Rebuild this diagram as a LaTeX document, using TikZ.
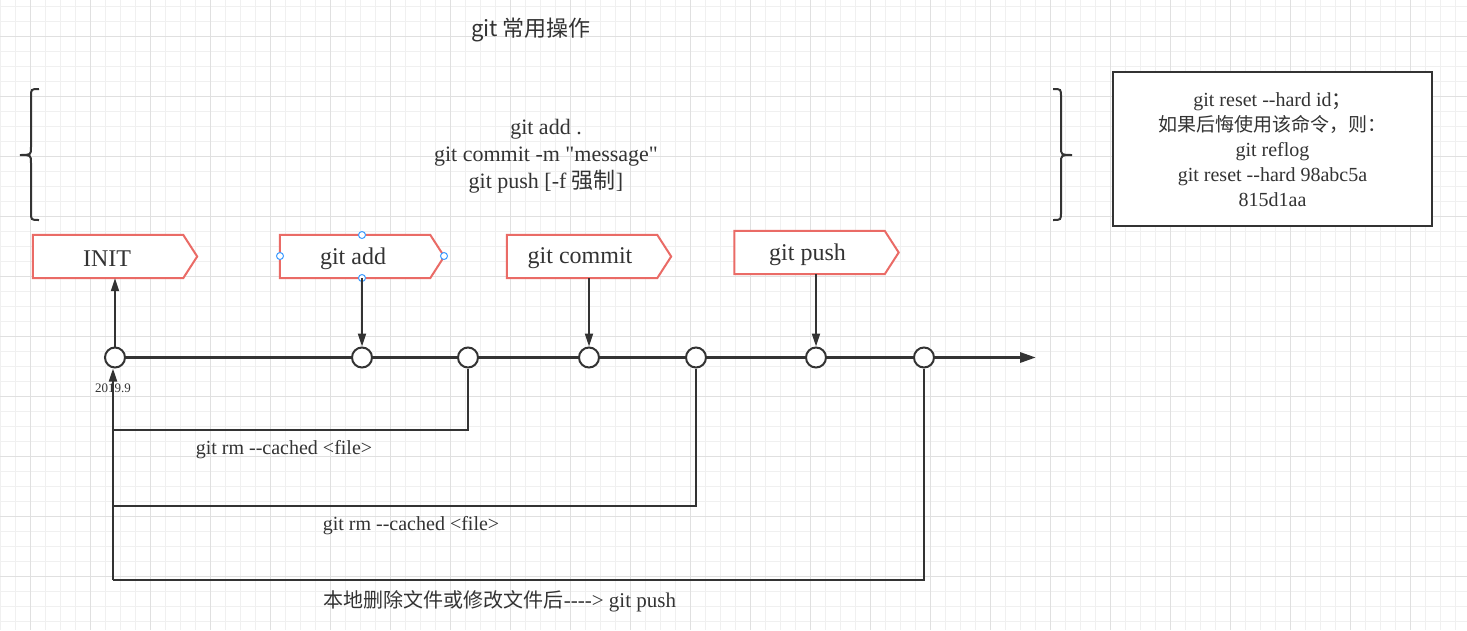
\documentclass[tikz,border=0pt]{standalone}
\usepackage{fontspec}
\setmainfont{Liberation Serif}[Ligatures=TeXOff]
\newfontfamily\cjk{Noto Sans CJK SC}
\usetikzlibrary{calc,arrows.meta,positioning}
\definecolor{ink}{HTML}{333333}
\definecolor{tagred}{HTML}{EA6B66}
\definecolor{gridminor}{HTML}{F0F0F0}
\definecolor{gridmajor}{HTML}{E0E0E0}
\definecolor{handle}{HTML}{3D9BFF}
\def\fsz#1#2{\fontsize{#1}{#2}\selectfont}
\def\tagbox#1{\draw[tagline] (#1.north west) -- (#1.north east) -- ($(#1.east)+(14,0)$) -- (#1.south east) -- (#1.south west) -- cycle;}
\tikzset{
	tagbody/.style={minimum width=150, minimum height=43, inner sep=0, text=ink, font=\fsz{24}{28}},
	tagline/.style={draw=tagred, line width=2, fill=white},
	commit/.style={circle, draw=ink, line width=2, fill=white, minimum size=20, inner sep=0},
	mainline/.style={draw=ink, line width=3, -{Triangle[length=16,width=10]}},
	conn/.style={draw=ink, line width=2, -{Triangle[length=13,width=8]}},
	back/.style={draw=ink, line width=2},
	txt/.style={text=ink, inner sep=0, align=center},
	brace/.style={draw=ink, line width=2},
	handlept/.style={draw=handle, fill=white, line width=1}
}

\begin{document}
\begin{tikzpicture}[x=1pt, y=-1pt]
		%%%%% START %%%%%
		\useasboundingbox (0,0) rectangle (1467,630);
		\fill[white] (0,0) rectangle (1467,630);
		\foreach \x in {0,15,...,1455} \draw[gridminor, line width=1] (\x,0) -- (\x,630);
		\foreach \y in {6,21,...,621} \draw[gridminor, line width=1] (0,\y) -- (1467,\y);
		\foreach \x in {30,90,...,1450} \draw[gridmajor, line width=1] (\x,0) -- (\x,630);
		\foreach \y in {36,96,...,600} \draw[gridmajor, line width=1] (0,\y) -- (1467,\y);
		
		\node[txt, font=\cjk\fsz{22}{26}] (title) at (531,30) {git 常用操作};
		
		% braces and commands
		\draw[brace] (39,89) .. controls (31,89) .. (31,97) -- (31,147) .. controls (31,155) .. (20,155) .. controls (31,155) .. (31,163) -- (31,212) .. controls (31,220) .. (39,220);
		\draw[brace] (1053,89) .. controls (1061,89) .. (1061,97) -- (1061,147) .. controls (1061,155) .. (1072,155) .. controls (1061,155) .. (1061,163) -- (1061,212) .. controls (1061,220) .. (1053,220);
		\node[txt, font=\fsz{22}{27}] (cmds) at (546,156) {git add .\\git commit -m "message"\\git push [-f {\cjk 强制}]};
		
		\node[draw=ink, line width=2, fill=white, minimum width=319, minimum height=154, txt, font=\fsz{20}{25}] (resetbox) at (1272.5,149) {};
		\node[txt, font=\fsz{20}{25}] at (1272.5,150) {git reset --hard id{\cjk ；}\\{\cjk\fsz{19}{25}如果后悔使用该命令，则：}\\git reflog\\git reset --hard 98abc5a\\815d1aa};
		
		% tags
		\node[tagbody] (inittag) at (108,256.5) {};
		\node[tagbody] (addtag) at (355,256.5) {};
		\node[tagbody] (committag) at (582,256.5) {};
		\node[tagbody] (pushtag) at (809.5,252.5) {};
		\tagbox{inittag}
		\tagbox{addtag}
		\tagbox{committag}
		\tagbox{pushtag}
		\node[tagbody] at ($(inittag)+(-1,2)$) {INIT};
		\node[tagbody] at ($(addtag)+(-2,2)$) {git add};
		\node[tagbody] at ($(committag)+(-2,2)$) {git commit};
		\node[tagbody] at ($(pushtag)+(-2,2)$) {git push};
		\foreach \p in {(362,235),(280,256),(444,256),(362,278)} \draw[handlept] \p circle (3.5);
		
		% timeline
		\foreach \x [count=\i] in {115,362,468,589,696,816,924} \node[commit] (c\i) at (\x,357.5) {};
		\coordinate (tip) at (1036,357.5);
		\draw[mainline] (c1) -- (c2) -- (c3) -- (c4) -- (c5) -- (c6) -- (c7) -- (tip);
		\node[txt, font=\fsz{13}{15}] (date) at (113,388) {2019.9};
		
		\draw[conn] (c1) -- (c1 |- inittag.south);
		\draw[conn] (c2 |- addtag.south) -- (c2);
		\draw[conn] (c4 |- committag.south) -- (c4);
		\draw[conn] (c6 |- pushtag.south) -- (c6);
		
		% back to init
		\coordinate (r1) at (113,430);
		\coordinate (r2) at (113,506);
		\coordinate (r3) at (113,580);
		\draw[back] (c3) |- (r1);
		\draw[back] (c5) |- (r2);
		\draw[back] (c7) |- (r3);
		\draw[conn] (r3) -- (r3 |- c1.south);
		\node[txt, font=\fsz{20}{24}] (rm1) at (284,450) {git rm --cached <file>};
		\node[txt, font=\fsz{20}{24}] (rm2) at (411,526) {git rm --cached <file>};
		\node[txt, font=\fsz{21}{25}] (local) at (500,601) {{\cjk\fsz{20}{25}本地删除文件或修改文件后}----> git push};
		%%%%% END %%%%%
	\end{tikzpicture}
\end{document}
